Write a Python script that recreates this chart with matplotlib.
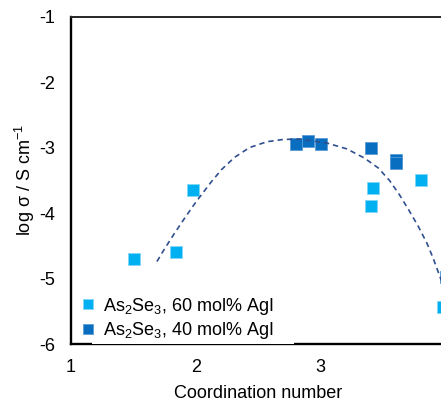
import matplotlib
matplotlib.use("Agg")
import matplotlib.pyplot as plt
from matplotlib.patches import Rectangle

plt.rcParams['font.family'] = ['Liberation Sans', 'DejaVu Sans']
plt.rcParams['mathtext.fontset'] = 'custom'
plt.rcParams['mathtext.rm'] = 'Liberation Sans'
plt.rcParams['axes.unicode_minus'] = False

# Measured conductivity vs. coordination number
cn_60 = [1.51, 1.84, 1.98, 3.40, 3.42, 3.80, 3.98]
logs_60 = [-4.70, -4.60, -3.65, -3.89, -3.61, -3.50, -5.44]

cn_40 = [2.80, 2.90, 3.00, 3.40, 3.60, 3.60, 4.00]
logs_40 = [-2.95, -2.90, -2.95, -3.00, -3.19, -3.24, -4.98]

# Guide-to-the-eye trend curve
trend_x = [1.69, 1.74, 1.82, 1.90, 1.98, 2.03, 2.13, 2.21, 2.31, 2.43, 2.57,
           2.70, 2.83, 3.05, 3.21, 3.35, 3.46, 3.55, 3.63, 3.71, 3.78, 3.85,
           3.90, 3.95, 4.00]
trend_y = [-4.74, -4.58, -4.34, -4.11, -3.89, -3.76, -3.51, -3.33, -3.15,
           -3.00, -2.91, -2.875, -2.87, -2.93, -3.02, -3.16, -3.31, -3.50,
           -3.72, -3.97, -4.20, -4.46, -4.69, -4.95, -5.20]

labels = [r'As$_\mathregular{2}$Se$_\mathregular{3}$, 60 mol% AgI',
          r'As$_\mathregular{2}$Se$_\mathregular{3}$, 40 mol% AgI']

light = '#00B0F0'
dark = '#0A6EC0'
fs = 13

fig = plt.figure(figsize=(4.41, 4.04), dpi=100)
ax = fig.add_axes([0.1603, 0.1485, 0.8503, 0.8102])

ax.plot(cn_60, logs_60, 's', color=light, markersize=8.6,
        markeredgecolor='#7FD6F6', markeredgewidth=0.6, label=labels[0],
        zorder=3, clip_on=False)
ax.plot(cn_40, logs_40, 's', color=dark, markersize=8.6,
        markeredgecolor='#5A9CD6', markeredgewidth=0.6, label=labels[1],
        zorder=3, clip_on=False)
ax.plot(trend_x, trend_y, color='#2F4F8F', linewidth=1.2,
        dashes=(3.2, 2.4), zorder=4)

ax.set_xlim(1, 4)
ax.set_ylim(-6, -1)
ax.set_xticks([1, 2, 3, 4])
ax.set_yticks([-6, -5, -4, -3, -2, -1])
ax.tick_params(length=0, labelsize=fs, pad=11)
ax.tick_params(axis='x', pad=11)

ax.set_xlabel('Coordination number', fontsize=fs, labelpad=6)
ax.set_ylabel(r'log σ / S cm$^{\mathregular{-1}}$', fontsize=fs, labelpad=1.8)

for s in ['left', 'bottom']:
    ax.spines[s].set_linewidth(1.7)
    ax.spines[s].set_color('black')
ax.spines['top'].set_linewidth(1.4)
ax.spines['top'].set_color('#262626')
ax.spines['right'].set_visible(False)

# White legend panel overlapping the upper half of the lower axis line
ax.add_patch(Rectangle((1.171, -6.003), 1.616, 0.75, transform=ax.transData,
                       facecolor='white', edgecolor='none', zorder=3,
                       clip_on=False))

leg = ax.legend(loc='lower left', bbox_to_anchor=(0.0, -0.03),
                frameon=False, fontsize=fs, handlelength=0.55,
                handletextpad=0.55, labelspacing=0.2, borderpad=0.2,
                markerscale=0.85)
leg.set_zorder(5)

fig.savefig('out.png', dpi=100)
